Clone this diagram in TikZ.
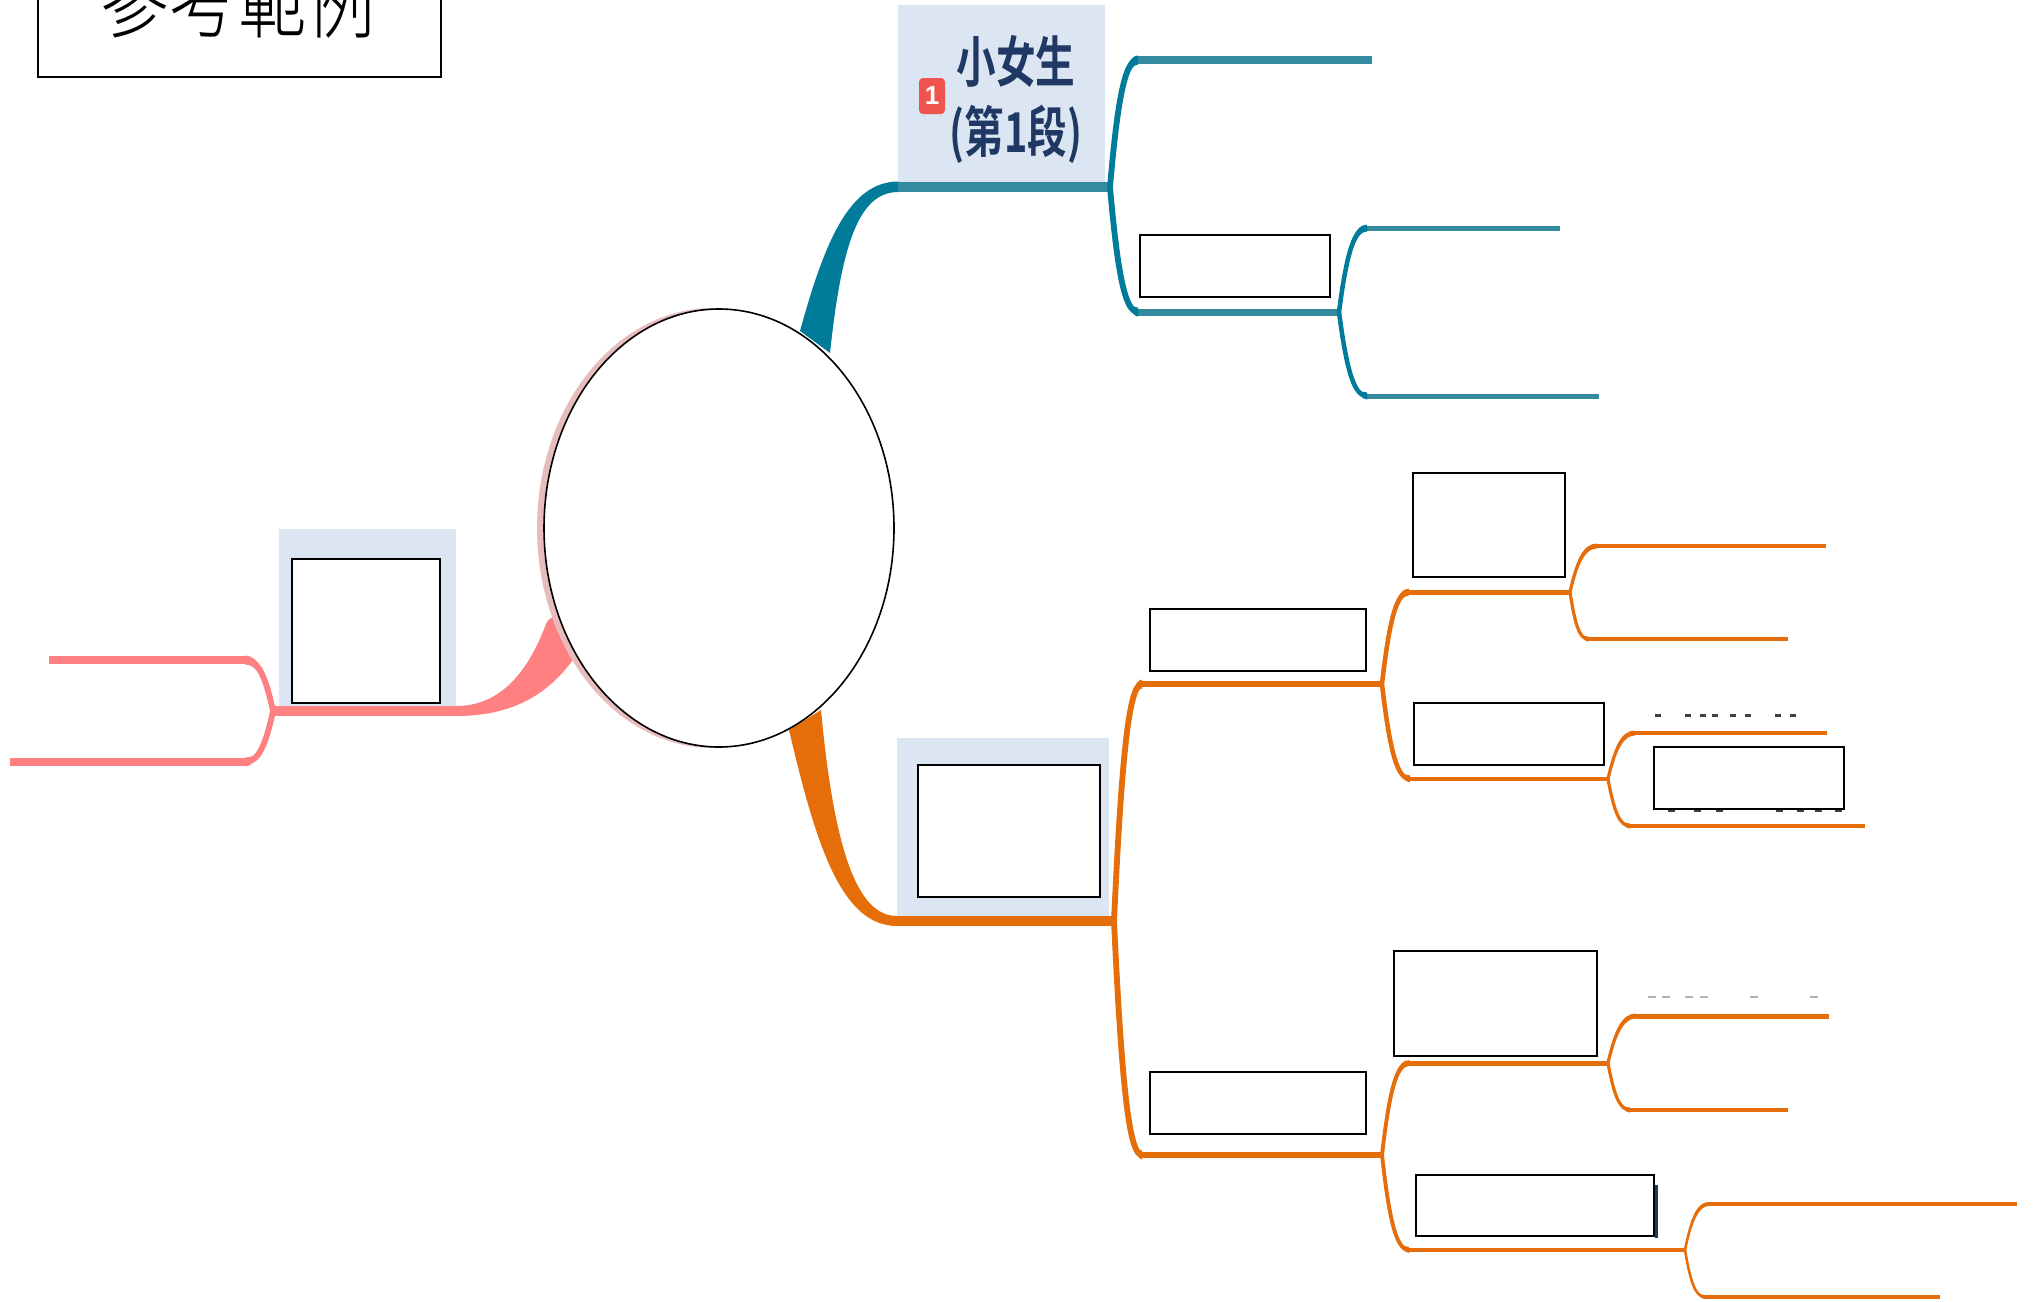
\documentclass[tikz,border=0pt]{standalone}
\usepackage{fontspec}
\usepackage{xcolor}
\usetikzlibrary{shapes.geometric, calc}
\newfontfamily\cjkbold[FakeStretch=0.72]{Noto Sans CJK TC Bold}
\newfontfamily\cjkthin[FakeStretch=0.78]{Noto Sans CJK TC Light}
\setmainfont{Liberation Sans}
\definecolor{tealline}{HTML}{348A9F}
\definecolor{tealcurve}{HTML}{007C9A}
\definecolor{pinkline}{HTML}{FF8080}
\definecolor{pinkrim}{HTML}{E8BCBC}
\definecolor{orangeline}{HTML}{E56E0B}
\definecolor{topicbg}{HTML}{DCE6F2}
\definecolor{topicink}{HTML}{1F3864}
\definecolor{badgered}{HTML}{F0544F}
\tikzset{
  maskbox/.style={draw=black, fill=white, line width=1.6pt},
  topicbox/.style={fill=topicbg},
  inkbit/.style={fill=black!75},
}
% tapered limb: colour, fork, end, half width at the end
\newcommand{\limb}[4]{%
  \draw[#1, line width=1.3*#4] let \p1=(#2), \p2=(#3) in
    (\x1,\y1) .. controls ({\x1+0.28*(\x2-\x1)},{\y1+0.72*(\y2-\y1)}) and ({\x1+0.55*(\x2-\x1)},\y2) .. (\x2,\y2);
  \fill[#1] let \p1=(#2), \p2=(#3) in
    (\x1,\y1) .. controls ({\x1+0.22*(\x2-\x1)},{\y1+0.72*(\y2-\y1)}) and ({\x1+0.5*(\x2-\x1)},{\y2+#4}) .. (\x2,{\y2+#4})
    -- (\x2,{\y2-#4})
    .. controls ({\x1+0.62*(\x2-\x1)},{\y2-#4}) and ({\x1+0.36*(\x2-\x1)},{\y1+0.72*(\y2-\y1)}) .. (\x1,\y1) -- cycle;
}
\begin{document}
\begin{tikzpicture}[x=1pt,y=-1pt]
\useasboundingbox (0,0) rectangle (2033,1301);
\clip (0,0) rectangle (2033,1301);

% Title
\draw[line width=1.6pt] (38,-20) rectangle (441,77);
\node[anchor=base, inner sep=0pt] (title) at (238,31) {\fontsize{88pt}{88pt}\selectfont\cjkthin 參考範例};

% Topic backgrounds
\fill[topicbox] (898,5) rectangle (1105,187);
\fill[topicbox] (279,529) rectangle (456,711);
\fill[topicbox] (897,738) rectangle (1109,921);

% Ribbons into the centre
\fill[tealcurve] (800,331) .. controls (825,240) and (850,181.5) .. (898.5,181.5) -- (898.5,192)
  .. controls (860,192) and (842,240) .. (830,353) -- cycle;
\fill[orangeline] (789,730) .. controls (815,840) and (840,926) .. (897,926) -- (897,916)
  .. controls (860,916) and (835,860) .. (821,710) -- cycle;
\fill[pinkline] (456,706) .. controls (495,706) and (525,680) .. (546,624)
  .. controls (548,619) and (552,616) .. (556,618) -- (575,657)
  .. controls (545,700) and (505,716) .. (456,716) -- cycle;

% Centre
\node[ellipse, draw=none, fill=pinkrim, minimum width=352pt, minimum height=440pt, inner sep=0pt] (backdisc) at (713,528) {};
\node[ellipse, draw=black, fill=white, line width=1.6pt, minimum width=350pt, minimum height=438pt, inner sep=0pt] (centre) at (719,528) {};

% Teal branch
\coordinate (tealroot) at (898,187);
\coordinate (tealfork) at (1110,187);
\coordinate (tealup) at (1138,60);
\coordinate (tealupend) at (1372,60);
\coordinate (tealdown) at (1138,312);
\coordinate (tealsub) at (1339,312);
\coordinate (tealsubup) at (1367,228);
\coordinate (tealsubupend) at (1560,228);
\coordinate (tealsubdown) at (1367,396);
\coordinate (tealsubdownend) at (1599,396);
\draw[tealline, line width=10pt] (tealroot) -- (tealfork);
\draw[tealline, line width=7.5pt] (tealup) -- (tealupend);
\draw[tealline, line width=7pt] (tealdown) -- (tealsub);
\draw[tealline, line width=5pt] (tealsubup) -- (tealsubupend);
\draw[tealline, line width=5pt] (tealsubdown) -- (tealsubdownend);
\limb{tealcurve}{tealfork}{tealup}{4.5pt}
\limb{tealcurve}{tealfork}{tealdown}{4.5pt}
\limb{tealcurve}{tealsub}{tealsubup}{3.5pt}
\limb{tealcurve}{tealsub}{tealsubdown}{3.5pt}

% Pink branch
\coordinate (pinkroot) at (456,711);
\coordinate (pinkfork) at (273,711);
\coordinate (pinkup) at (245,660);
\coordinate (pinkupend) at (49,660);
\coordinate (pinkdown) at (245,762);
\coordinate (pinkdownend) at (10,762);
\draw[pinkline, line width=10pt] (pinkroot) -- (pinkfork);
\draw[pinkline, line width=8pt] (pinkup) -- (pinkupend);
\draw[pinkline, line width=8pt] (pinkdown) -- (pinkdownend);
\limb{pinkline}{pinkfork}{pinkup}{4.5pt}
\limb{pinkline}{pinkfork}{pinkdown}{4.5pt}

% Orange branch
\coordinate (orangeroot) at (897,921);
\coordinate (orangefork) at (1114,921);
\coordinate (orangeup) at (1142,684);
\coordinate (orangea) at (1382,684);
\coordinate (orangedown) at (1142,1155);
\coordinate (orangeb) at (1382,1155);
\draw[orangeline, line width=10pt] (orangeroot) -- (orangefork);
\draw[orangeline, line width=6pt] (orangeup) -- (orangea);
\draw[orangeline, line width=6pt] (orangedown) -- (orangeb);
\limb{orangeline}{orangefork}{orangeup}{4.5pt}
\limb{orangeline}{orangefork}{orangedown}{4.5pt}

% Orange, upper part
\coordinate (aup) at (1409,592);
\coordinate (afork) at (1570,592);
\coordinate (afup) at (1597,546);
\coordinate (afupend) at (1826,546);
\coordinate (afdown) at (1588,639);
\coordinate (afdownend) at (1788,639);
\coordinate (adown) at (1410,779);
\coordinate (agate) at (1608,779);
\coordinate (agup) at (1635,733);
\coordinate (agupend) at (1827,733);
\coordinate (agdown) at (1630,826);
\coordinate (agdownend) at (1865,826);
\draw[orangeline, line width=5pt] (aup) -- (afork);
\draw[orangeline, line width=4.5pt] (adown) -- (agate);
\draw[orangeline, line width=3.5pt] (afup) -- (afupend);
\draw[orangeline, line width=3.5pt] (afdown) -- (afdownend);
\draw[orangeline, line width=3.5pt] (agup) -- (agupend);
\draw[orangeline, line width=3.5pt] (agdown) -- (agdownend);
\limb{orangeline}{orangea}{aup}{3.5pt}
\limb{orangeline}{orangea}{adown}{3.5pt}
\limb{orangeline}{afork}{afup}{2.5pt}
\limb{orangeline}{afork}{afdown}{2.5pt}
\limb{orangeline}{agate}{agup}{2.5pt}
\limb{orangeline}{agate}{agdown}{2.5pt}

% Orange, lower part
\coordinate (bup) at (1409,1063);
\coordinate (bfork) at (1608,1063);
\coordinate (bfup) at (1636,1016);
\coordinate (bfupend) at (1829,1016);
\coordinate (bfdown) at (1630,1110);
\coordinate (bfdownend) at (1788,1110);
\coordinate (bdown) at (1409,1250);
\coordinate (bgate) at (1685,1250);
\coordinate (bgup) at (1709,1204);
\coordinate (bgupend) at (2017,1204);
\coordinate (bgdown) at (1705,1297);
\coordinate (bgdownend) at (1940,1297);
\draw[orangeline, line width=5pt] (bup) -- (bfork);
\draw[orangeline, line width=4pt] (bdown) -- (bgate);
\draw[orangeline, line width=5pt] (bfup) -- (bfupend);
\draw[orangeline, line width=3.5pt] (bfdown) -- (bfdownend);
\draw[orangeline, line width=3.5pt] (bgup) -- (bgupend);
\draw[orangeline, line width=3.5pt] (bgdown) -- (bgdownend);
\limb{orangeline}{orangeb}{bup}{3pt}
\limb{orangeline}{orangeb}{bdown}{3pt}
\limb{orangeline}{bfork}{bfup}{2.5pt}
\limb{orangeline}{bfork}{bfdown}{2.5pt}
\limb{orangeline}{bgate}{bgup}{2pt}
\limb{orangeline}{bgate}{bgdown}{2pt}

% Topic 1 label
\node[align=center, inner sep=0pt, text=topicink, font=\fontsize{55pt}{70pt}\selectfont\cjkbold] (topicone) at (1016,100) {小女生\\(第1段)};
\node[fill=badgered, rounded corners=4pt, text=white, font=\fontsize{26pt}{26pt}\selectfont\bfseries, minimum width=26pt, minimum height=36pt, inner sep=0pt] (badge) at (932,96) {1};

% Bits of ink that stick out of the white boxes
\foreach \px in {1655,1685,1700,1712,1730,1745,1775,1790}
  \fill[inkbit] (\px,714) rectangle ++(6,3);
\foreach \px in {1668,1694,1716,1776,1797,1815,1835}
  \fill[inkbit] (\px,809) rectangle ++(7,2.5);
\foreach \px in {1648,1662,1685,1700,1750,1810}
  \fill[black!30] (\px,996) rectangle ++(8,2);
\fill[topicink] (1655,1185) rectangle (1657.5,1238);

% White boxes
\draw[maskbox] (292,559) rectangle (440,703);
\draw[maskbox] (1140,235) rectangle (1330,297);
\draw[maskbox] (918,765) rectangle (1100,897);
\draw[maskbox] (1150,609) rectangle (1366,671);
\draw[maskbox] (1413,473) rectangle (1565,577);
\draw[maskbox] (1414,703) rectangle (1604,765);
\draw[maskbox] (1654,747) rectangle (1844,809);
\draw[maskbox] (1150,1072) rectangle (1366,1134);
\draw[maskbox] (1394,951) rectangle (1597,1056);
\draw[maskbox] (1416,1175) rectangle (1654,1236);
\end{tikzpicture}
\end{document}
